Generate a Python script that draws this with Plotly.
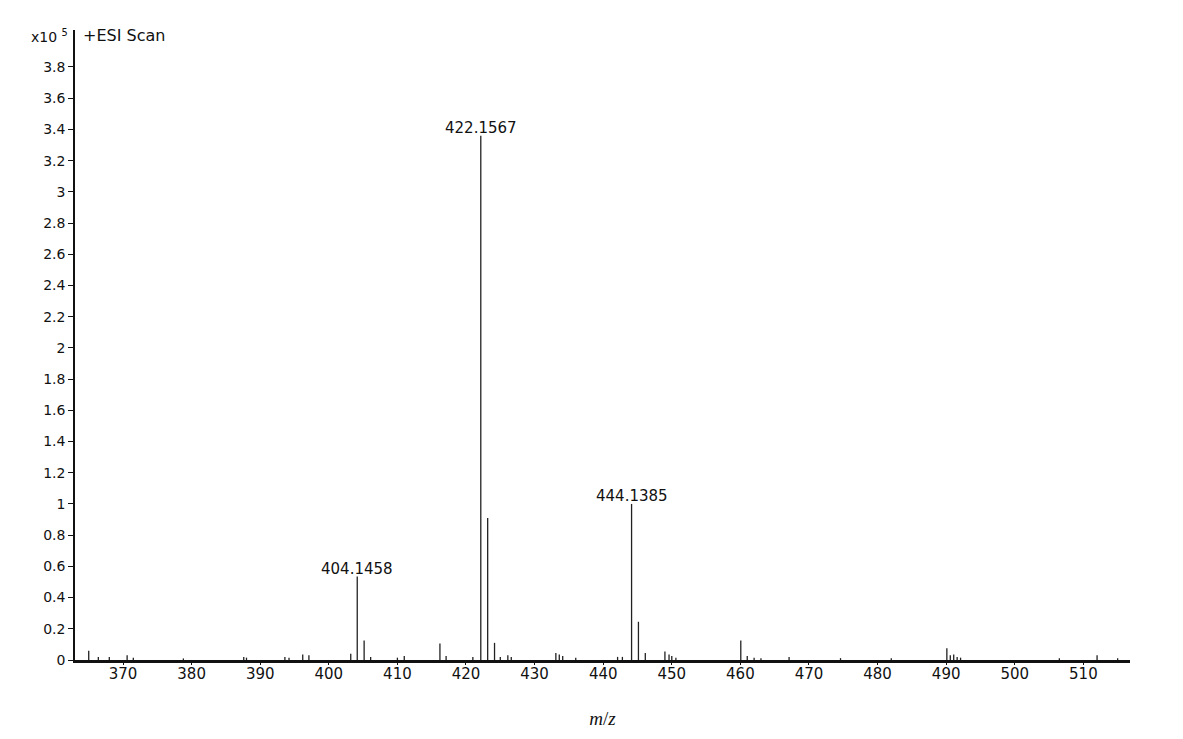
import plotly.graph_objects as go

# m/z values and intensities (x10^5)
mz = [365.0, 366.4, 368.0, 370.6, 371.5, 378.8, 387.6, 388.0, 393.6, 394.2, 396.2, 397.1,
      403.2, 404.1458, 405.15, 406.1, 410.0, 411.0, 416.2, 417.1, 421.0, 422.1567, 423.16,
      424.16, 425.0, 426.1, 426.6, 433.1, 433.6, 434.1, 436.0, 442.1, 442.8, 444.1385,
      445.14, 446.14, 449.0, 449.6, 450.0, 450.6, 460.06, 461.0, 462.0, 463.0, 467.1,
      474.6, 482.0, 490.1, 490.6, 491.1, 491.6, 492.1, 506.5, 512.0, 515.0]
intensity = [0.06, 0.02, 0.02, 0.03, 0.015, 0.01, 0.02, 0.015, 0.02, 0.015, 0.035, 0.03,
             0.04, 0.535, 0.125, 0.02, 0.015, 0.025, 0.105, 0.025, 0.02, 3.36, 0.91,
             0.11, 0.02, 0.03, 0.02, 0.045, 0.035, 0.025, 0.015, 0.02, 0.02, 1.0,
             0.245, 0.045, 0.055, 0.035, 0.025, 0.015, 0.125, 0.025, 0.015, 0.012, 0.02,
             0.012, 0.012, 0.075, 0.03, 0.035, 0.02, 0.015, 0.012, 0.03, 0.012]

label_mz = [404.1458, 422.1567, 444.1385]
label_int = [0.535, 3.36, 1.0]
label_text = ["404.1458", "422.1567", "444.1385"]

y_ticks = [0, 0.2, 0.4, 0.6, 0.8, 1, 1.2, 1.4, 1.6, 1.8, 2, 2.2, 2.4, 2.6, 2.8, 3, 3.2, 3.4, 3.6, 3.8]
x_ticks = [370, 380, 390, 400, 410, 420, 430, 440, 450, 460, 470, 480, 490, 500, 510]

FONT = "DejaVu Sans, Arial, sans-serif"

xs, ys = [], []
for m, v in zip(mz, intensity):
    xs += [m, m, None]
    ys += [0, v, None]

fig = go.Figure()
fig.add_trace(go.Scatter(x=xs, y=ys, mode="lines",
                         line=dict(color="#222222", width=1.3),
                         hoverinfo="skip", showlegend=False))

for m, v, t in zip(label_mz, label_int, label_text):
    fig.add_annotation(x=m, y=v, text=t, showarrow=False, yanchor="bottom", yshift=-3,
                       font=dict(family=FONT, size=15, color="#111111"))

fig.add_annotation(xref="paper", yref="paper", x=0, y=1.0, xanchor="right", yanchor="middle",
                   xshift=-5, yshift=-6,
                   text="x10 <sup>5</sup>", showarrow=False,
                   font=dict(family=FONT, size=14, color="#111111"))
fig.add_annotation(xref="paper", yref="paper", x=0, y=1.0, xanchor="left", yanchor="middle",
                   xshift=6, yshift=-5,
                   text="+ESI Scan", showarrow=False,
                   font=dict(family=FONT, size=16, color="#111111"))

fig.update_layout(
    width=1183, height=739,
    paper_bgcolor="white", plot_bgcolor="white",
    margin=dict(l=67, r=61, t=22, b=87),
    font=dict(family=FONT, size=14, color="#111111"),
    xaxis=dict(range=[363.0, 516.8], tickvals=x_ticks, showgrid=False, zeroline=False,
               showline=True, linecolor="#111111", linewidth=2.5, ticks="outside", ticklen=2,
               tickcolor="#111111", tickfont=dict(family=FONT, size=15),
               ticklabelstandoff=-4,
               title=dict(text="<i>m</i>/<i>z</i>",
                          font=dict(family="Liberation Serif, Times New Roman, serif", size=19),
                          standoff=30)),
    yaxis=dict(range=[0, 4.037], tickvals=y_ticks, showgrid=False, zeroline=False,
               showline=True, linecolor="#111111", linewidth=1.5, ticks="outside", ticklen=5,
               tickcolor="#111111", tickfont=dict(family=FONT, size=14)),
)

fig.write_html("out.html")
